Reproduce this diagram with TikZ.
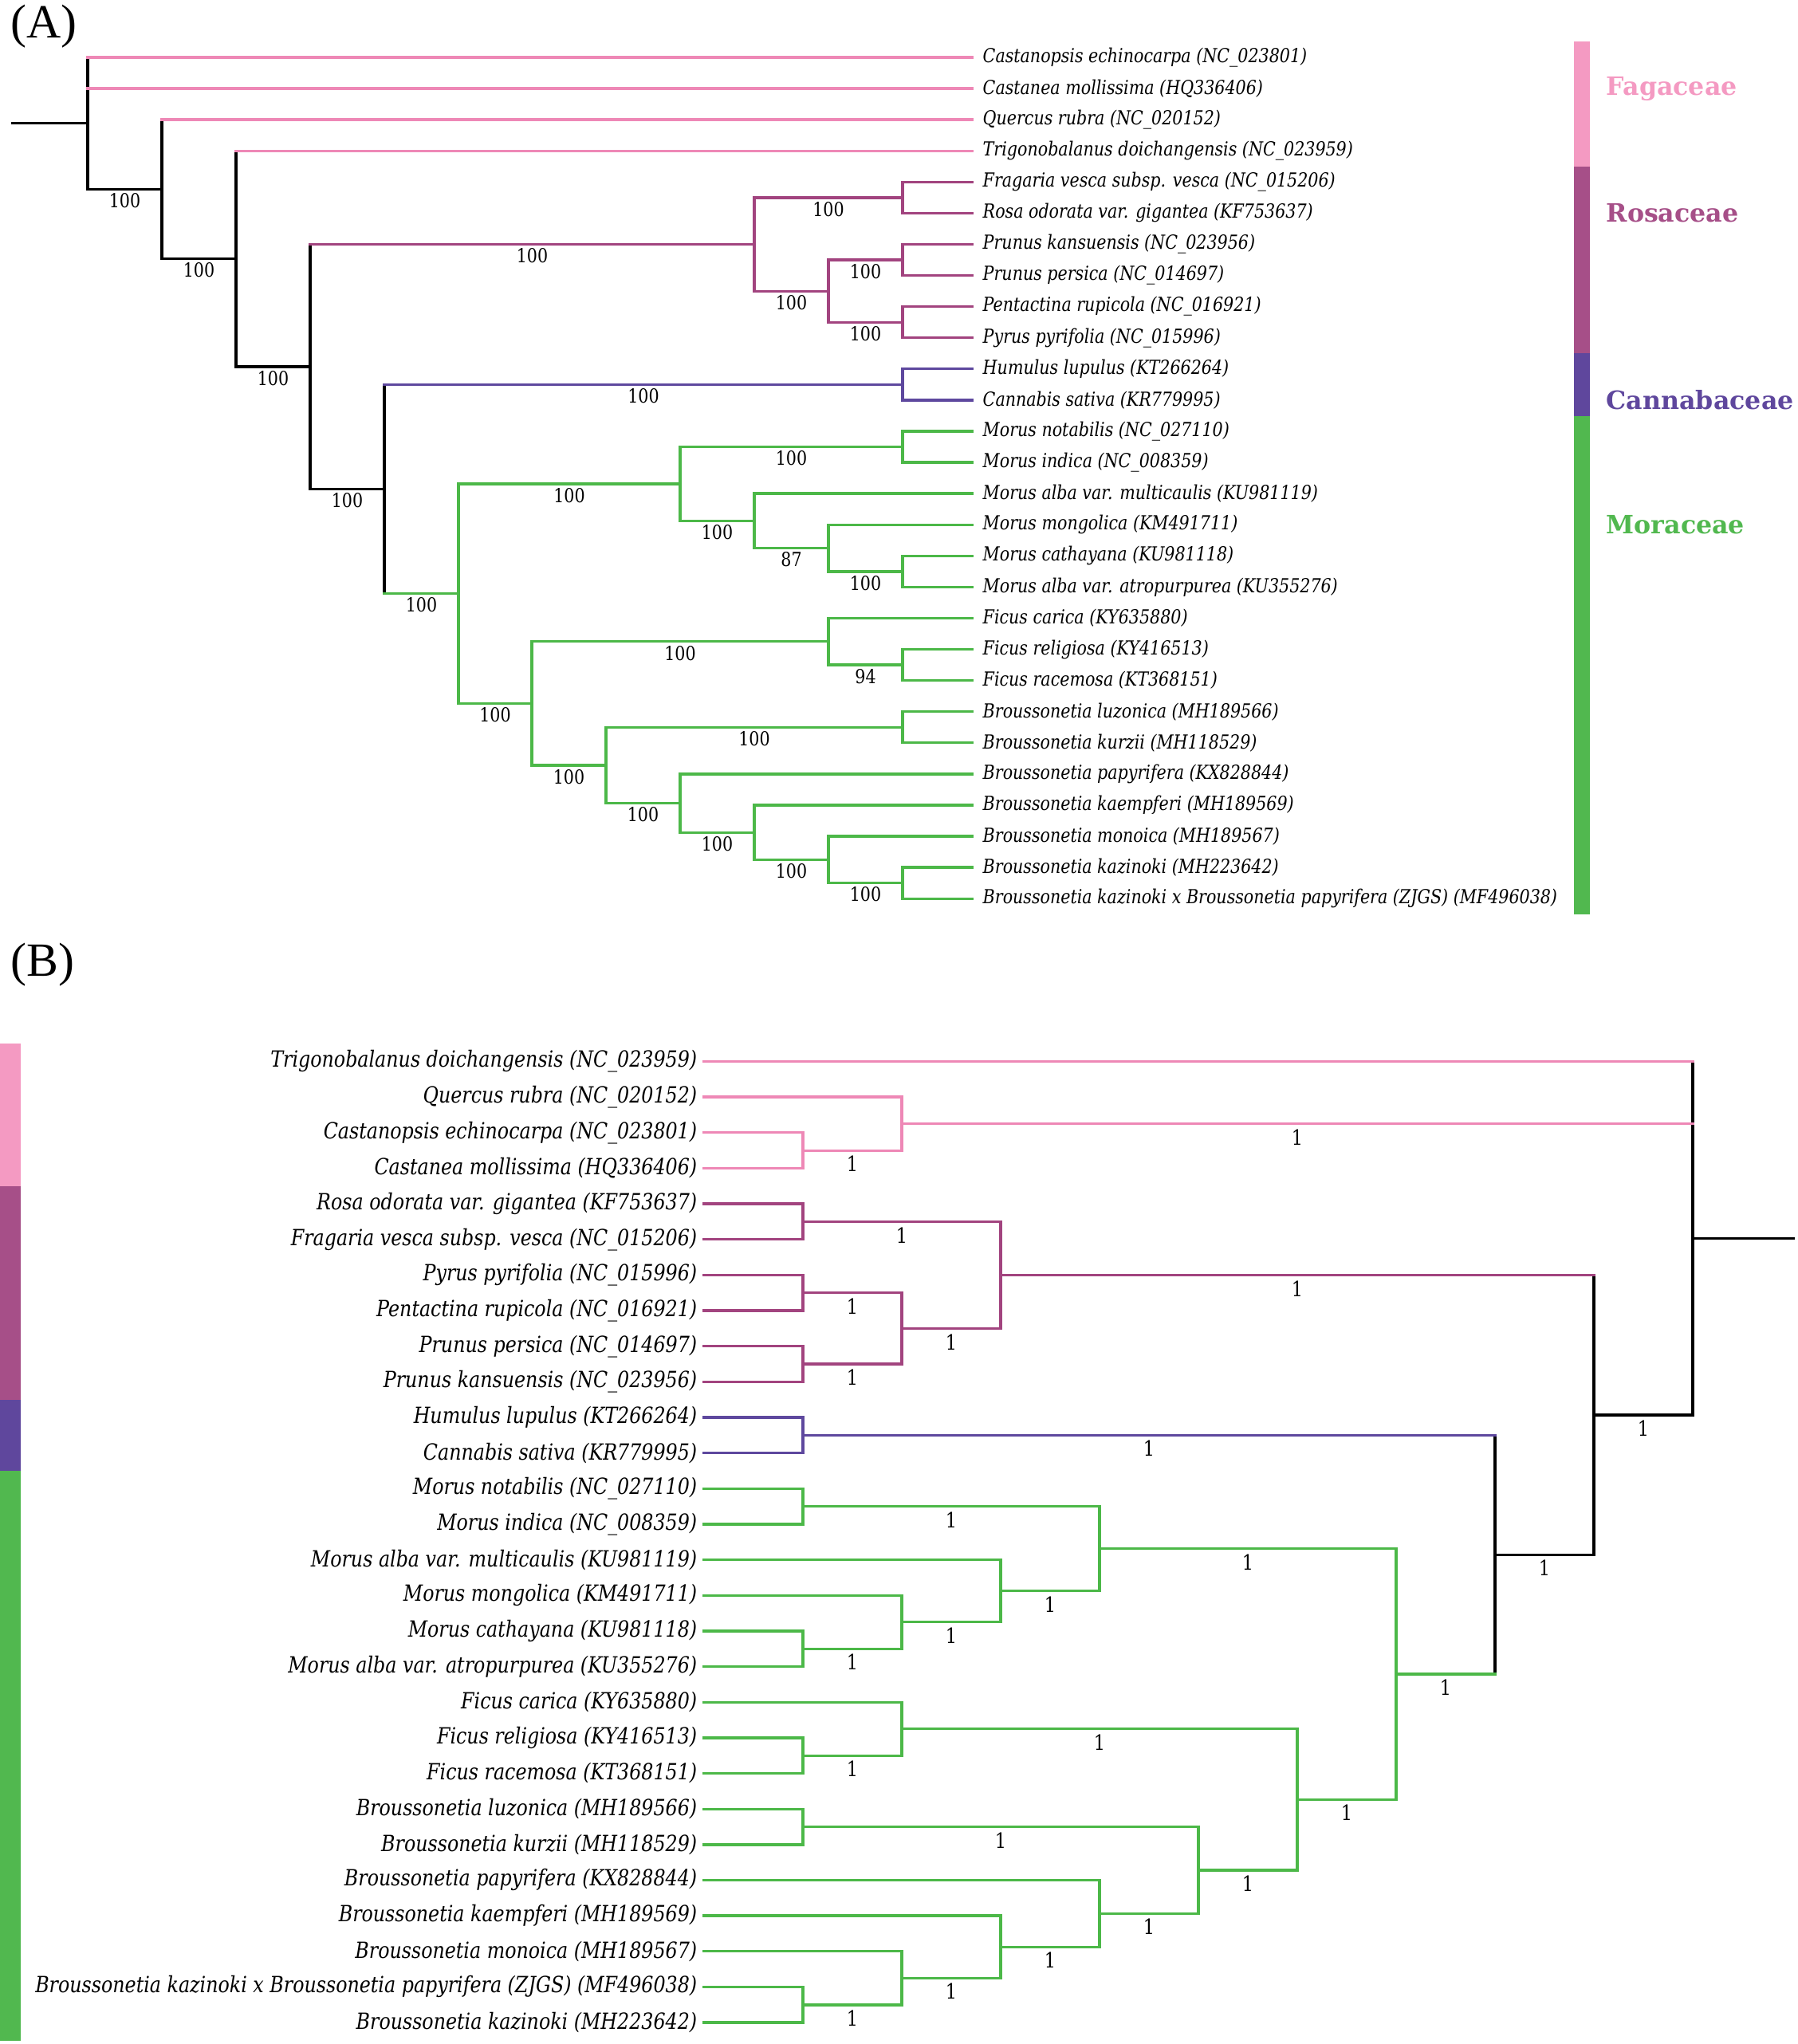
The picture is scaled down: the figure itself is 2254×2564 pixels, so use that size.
\documentclass[tikz,border=0pt]{standalone}
\usepackage{fontspec}
\setmainfont{Liberation Serif}
\newfontfamily\tipfont[FakeStretch=0.85]{DejaVu Serif}
\newfontfamily\famfont{DejaVu Serif}
\definecolor{fagline}{HTML}{EE88B6}
\definecolor{rosline}{HTML}{A2447F}
\definecolor{canline}{HTML}{5E489E}
\definecolor{morline}{HTML}{4CB848}
\definecolor{fagbar}{HTML}{F49AC2}
\definecolor{rosbar}{HTML}{A64F88}
\definecolor{canbar}{HTML}{5F479D}
\definecolor{morbar}{HTML}{51B84F}
\tikzset{
  tree/.style={line width=0.95pt, line cap=rect},
  blk/.style={tree, draw=black},
  fag/.style={tree, draw=fagline},
  ros/.style={tree, draw=rosline},
  can/.style={tree, draw=canline},
  mor/.style={tree, draw=morline},
  tipa/.style={anchor=west, inner xsep=3.7pt, inner ysep=0pt, font=\tipfont\itshape\fontsize{6.9}{8}\selectfont},
  tipb/.style={anchor=east, inner xsep=2.3pt, inner ysep=0pt, font=\tipfont\itshape\fontsize{7.95}{9}\selectfont},
  boota/.style={below, inner sep=1pt, font=\tipfont\fontsize{6.9}{8}\selectfont},
  bootb/.style={below, inner sep=1.5pt, font=\tipfont\fontsize{7.5}{9}\selectfont},
  fam/.style={anchor=west, inner sep=0pt, font=\famfont\bfseries\fontsize{9}{10}\selectfont},
  panel/.style={anchor=north west, inner sep=0pt, font=\fontsize{17}{17}\selectfont}
}
\begin{document}
\begin{tikzpicture}[x=0.01cm, y=-0.01cm]
\useasboundingbox (0,0) rectangle (2254,2564);
%%%% (A)
\node[panel] (pA) at (13,5) {(A)};
\foreach \t [count=\i from 0] in {Castanopsis echinocarpa (NC\_023801), Castanea mollissima (HQ336406), Quercus rubra (NC\_020152), Trigonobalanus doichangensis (NC\_023959), Fragaria vesca subsp. vesca (NC\_015206), Rosa odorata var. gigantea (KF753637), Prunus kansuensis (NC\_023956), Prunus persica (NC\_014697), Pentactina rupicola (NC\_016921), Pyrus pyrifolia (NC\_015996), Humulus lupulus (KT266264), Cannabis sativa (KR779995), Morus notabilis (NC\_027110), Morus indica (NC\_008359), Morus alba var. multicaulis (KU981119), Morus mongolica (KM491711), Morus cathayana (KU981118), Morus alba var. atropurpurea (KU355276), Ficus carica (KY635880), Ficus religiosa (KY416513), Ficus racemosa (KT368151), Broussonetia luzonica (MH189566), Broussonetia kurzii (MH118529), Broussonetia papyrifera (KX828844), Broussonetia kaempferi (MH189569), Broussonetia monoica (MH189567), Broussonetia kazinoki (MH223642), Broussonetia kazinoki x Broussonetia papyrifera (ZJGS) (MF496038)}
  \node[tipa] (ta\i) at (1219,{72+39.08*\i}) {\t};
\coordinate (aFR) at (1132,247.9);
\coordinate (aPk) at (1132,326.1);
\coordinate (aPP) at (1132,404.2);
\coordinate (aPr) at (1039,365.2);
\coordinate (aRos) at (946,306.5);
\coordinate (aCan) at (1132,482.4);
\coordinate (aNI) at (1132,560.5);
\coordinate (aCA) at (1132,716.9);
\coordinate (aMC) at (1039,687.6);
\coordinate (aAl) at (946,653.4);
\coordinate (aMor) at (853,607.0);
\coordinate (aRR) at (1132,834.1);
\coordinate (aFic) at (1039,804.8);
\coordinate (aLK) at (1132,912.3);
\coordinate (aKK) at (1132,1107.7);
\coordinate (aMo) at (1039,1078.4);
\coordinate (aKa) at (946,1044.2);
\coordinate (aPa) at (853,1007.5);
\coordinate (aBro) at (760,959.9);
\coordinate (aFB) at (667,882.4);
\coordinate (aMora) at (575,744.7);
\coordinate (aCM) at (482,613.6);
\coordinate (aRCM) at (389,460.1);
\coordinate (aT) at (296,324.7);
\coordinate (aQ) at (203,237.5);
\coordinate (aRoot) at (110,154.7);
\coordinate (aBase) at (16,154.7);
\draw[blk] (aBase) -- (aRoot);
\foreach \n/\u/\d/\s in {aRoot/ta0.west/aQ/blk, aQ/ta2.west/aT/blk, aT/ta3.west/aRCM/blk, aRCM/aRos/aCM/blk,
  aRos/aFR/aPr/ros, aFR/ta4.west/ta5.west/ros, aPr/aPk/aPP/ros, aPk/ta6.west/ta7.west/ros, aPP/ta8.west/ta9.west/ros,
  aCM/aCan/aMora/blk, aCan/ta10.west/ta11.west/can, aMora/aMor/aFB/mor, aMor/aNI/aAl/mor, aNI/ta12.west/ta13.west/mor,
  aAl/ta14.west/aMC/mor, aMC/ta15.west/aCA/mor, aCA/ta16.west/ta17.west/mor, aFB/aFic/aBro/mor, aFic/ta18.west/aRR/mor,
  aRR/ta19.west/ta20.west/mor, aBro/aLK/aPa/mor, aLK/ta21.west/ta22.west/mor, aPa/ta23.west/aKa/mor,
  aKa/ta24.west/aMo/mor, aMo/ta25.west/aKK/mor, aKK/ta26.west/ta27.west/mor}
  \draw[\s] (\n |- \u) -- (\n |- \d);
\foreach \n/\t/\s in {aRoot/ta0/fag, aRoot/ta1/fag, aQ/ta2/fag, aT/ta3/fag, aFR/ta4/ros, aFR/ta5/ros, aPk/ta6/ros,
  aPk/ta7/ros, aPP/ta8/ros, aPP/ta9/ros, aCan/ta10/can, aCan/ta11/can, aNI/ta12/mor, aNI/ta13/mor, aAl/ta14/mor,
  aMC/ta15/mor, aCA/ta16/mor, aCA/ta17/mor, aFic/ta18/mor, aRR/ta19/mor, aRR/ta20/mor, aLK/ta21/mor, aLK/ta22/mor,
  aPa/ta23/mor, aKa/ta24/mor, aMo/ta25/mor, aKK/ta26/mor, aKK/ta27/mor}
  \draw[\s] (\n |- \t.west) -- (\t.west);
\foreach \n/\c/\s/\l in {aRoot/aQ/blk/100, aQ/aT/blk/100, aT/aRCM/blk/100, aRCM/aRos/ros/100, aRos/aFR/ros/100,
  aRos/aPr/ros/100, aPr/aPk/ros/100, aPr/aPP/ros/100, aRCM/aCM/blk/100, aCM/aCan/can/100, aCM/aMora/mor/100,
  aMora/aMor/mor/100, aMor/aNI/mor/100, aMor/aAl/mor/100, aAl/aMC/mor/87, aMC/aCA/mor/100, aMora/aFB/mor/100,
  aFB/aFic/mor/100, aFic/aRR/mor/94, aFB/aBro/mor/100, aBro/aLK/mor/100, aBro/aPa/mor/100, aPa/aKa/mor/100,
  aKa/aMo/mor/100, aMo/aKK/mor/100}
  \draw[\s] (\n |- \c) -- (\c) node[midway, boota] (l\c) {\l};
%%%% family bar (A)
\fill[fagbar] (1974,52.5) rectangle (1994,208.8);
\fill[rosbar] (1974,208.8) rectangle (1994,443.3);
\fill[canbar] (1974,443.3) rectangle (1994,521.5);
\fill[morbar] (1974,521.5) rectangle (1994,1146.7);
\node[fam, text=fagbar] (fagA) at (2014,111.1) {Fagaceae};
\node[fam, text=rosbar] (rosA) at (2014,267.4) {Rosaceae};
\node[fam, text=canbar] (canA) at (2014,501.9) {Cannabaceae};
\node[fam, text=morbar] (morA) at (2014,658.2) {Moraceae};
%%%% (B)
\node[panel] (pB) at (13,1182) {(B)};
\foreach \t [count=\i from 0] in {Trigonobalanus doichangensis (NC\_023959), Quercus rubra (NC\_020152), Castanopsis echinocarpa (NC\_023801), Castanea mollissima (HQ336406), Rosa odorata var. gigantea (KF753637), Fragaria vesca subsp. vesca (NC\_015206), Pyrus pyrifolia (NC\_015996), Pentactina rupicola (NC\_016921), Prunus persica (NC\_014697), Prunus kansuensis (NC\_023956), Humulus lupulus (KT266264), Cannabis sativa (KR779995), Morus notabilis (NC\_027110), Morus indica (NC\_008359), Morus alba var. multicaulis (KU981119), Morus mongolica (KM491711), Morus cathayana (KU981118), Morus alba var. atropurpurea (KU355276), Ficus carica (KY635880), Ficus religiosa (KY416513), Ficus racemosa (KT368151), Broussonetia luzonica (MH189566), Broussonetia kurzii (MH118529), Broussonetia papyrifera (KX828844), Broussonetia kaempferi (MH189569), Broussonetia monoica (MH189567), Broussonetia kazinoki x Broussonetia papyrifera (ZJGS) (MF496038), Broussonetia kazinoki (MH223642)}
  \node[tipb] (tb\i) at (883,{1331.5+44.65*\i}) {\t};
\coordinate (bCC) at (1007,1443.2);
\coordinate (bQ) at (1131,1409.7);
\coordinate (bRF) at (1007,1532.5);
\coordinate (bPP) at (1007,1621.8);
\coordinate (bPk) at (1007,1711.1);
\coordinate (bPPP) at (1131,1666.5);
\coordinate (bRos) at (1255,1599.5);
\coordinate (bCan) at (1007,1800.4);
\coordinate (bNI) at (1007,1889.7);
\coordinate (bCA) at (1007,2068.3);
\coordinate (bMC) at (1131,2034.8);
\coordinate (bAl) at (1255,1995.7);
\coordinate (bMor) at (1379,1942.7);
\coordinate (bRR) at (1007,2202.2);
\coordinate (bFic) at (1131,2168.7);
\coordinate (bLK) at (1007,2291.5);
\coordinate (bKK) at (1007,2514.8);
\coordinate (bMo) at (1131,2481.3);
\coordinate (bKa) at (1255,2442.2);
\coordinate (bPa) at (1379,2400.4);
\coordinate (bBro) at (1503,2346.0);
\coordinate (bFB) at (1627,2257.4);
\coordinate (bMora) at (1751,2100.1);
\coordinate (bCM) at (1875,1950.3);
\coordinate (bRCM) at (1999,1774.9);
\coordinate (bRoot) at (2123,1553.2);
\coordinate (bBase) at (2249,1553.2);
\draw[blk] (bRoot) -- (bBase);
\foreach \n/\u/\d/\s in {bRoot/tb0.east/bRCM/blk, bQ/tb1.east/bCC/fag, bCC/tb2.east/tb3.east/fag, bRCM/bRos/bCM/blk,
  bRos/bRF/bPPP/ros, bRF/tb4.east/tb5.east/ros, bPPP/bPP/bPk/ros, bPP/tb6.east/tb7.east/ros, bPk/tb8.east/tb9.east/ros,
  bCM/bCan/bMora/blk, bCan/tb10.east/tb11.east/can, bMora/bMor/bFB/mor, bMor/bNI/bAl/mor, bNI/tb12.east/tb13.east/mor,
  bAl/tb14.east/bMC/mor, bMC/tb15.east/bCA/mor, bCA/tb16.east/tb17.east/mor, bFB/bFic/bBro/mor, bFic/tb18.east/bRR/mor,
  bRR/tb19.east/tb20.east/mor, bBro/bLK/bPa/mor, bLK/tb21.east/tb22.east/mor, bPa/tb23.east/bKa/mor,
  bKa/tb24.east/bMo/mor, bMo/tb25.east/bKK/mor, bKK/tb26.east/tb27.east/mor}
  \draw[\s] (\n |- \u) -- (\n |- \d);
\foreach \n/\t/\s in {bRoot/tb0/fag, bQ/tb1/fag, bCC/tb2/fag, bCC/tb3/fag, bRF/tb4/ros, bRF/tb5/ros, bPP/tb6/ros,
  bPP/tb7/ros, bPk/tb8/ros, bPk/tb9/ros, bCan/tb10/can, bCan/tb11/can, bNI/tb12/mor, bNI/tb13/mor, bAl/tb14/mor,
  bMC/tb15/mor, bCA/tb16/mor, bCA/tb17/mor, bFic/tb18/mor, bRR/tb19/mor, bRR/tb20/mor, bLK/tb21/mor, bLK/tb22/mor,
  bPa/tb23/mor, bKa/tb24/mor, bMo/tb25/mor, bKK/tb26/mor, bKK/tb27/mor}
  \draw[\s] (\t.east) -- (\n |- \t.east);
\foreach \n/\c/\s in {bRoot/bQ/fag, bQ/bCC/fag, bRoot/bRCM/blk, bRCM/bRos/ros, bRos/bRF/ros, bRos/bPPP/ros,
  bPPP/bPP/ros, bPPP/bPk/ros, bRCM/bCM/blk, bCM/bCan/can, bCM/bMora/mor, bMora/bMor/mor, bMor/bNI/mor,
  bMor/bAl/mor, bAl/bMC/mor, bMC/bCA/mor, bMora/bFB/mor, bFB/bFic/mor, bFic/bRR/mor, bFB/bBro/mor,
  bBro/bLK/mor, bBro/bPa/mor, bPa/bKa/mor, bKa/bMo/mor, bMo/bKK/mor}
  \draw[\s] (\c) -- (\n |- \c) node[midway, bootb] (l\c) {1};
%%%% family bar (B)
\fill[fagbar] (0,1309) rectangle (26,1487.8);
\fill[rosbar] (0,1487.8) rectangle (26,1755.7);
\fill[canbar] (0,1755.7) rectangle (26,1845);
\fill[morbar] (0,1845) rectangle (26,2559.5);
\end{tikzpicture}
\end{document}
